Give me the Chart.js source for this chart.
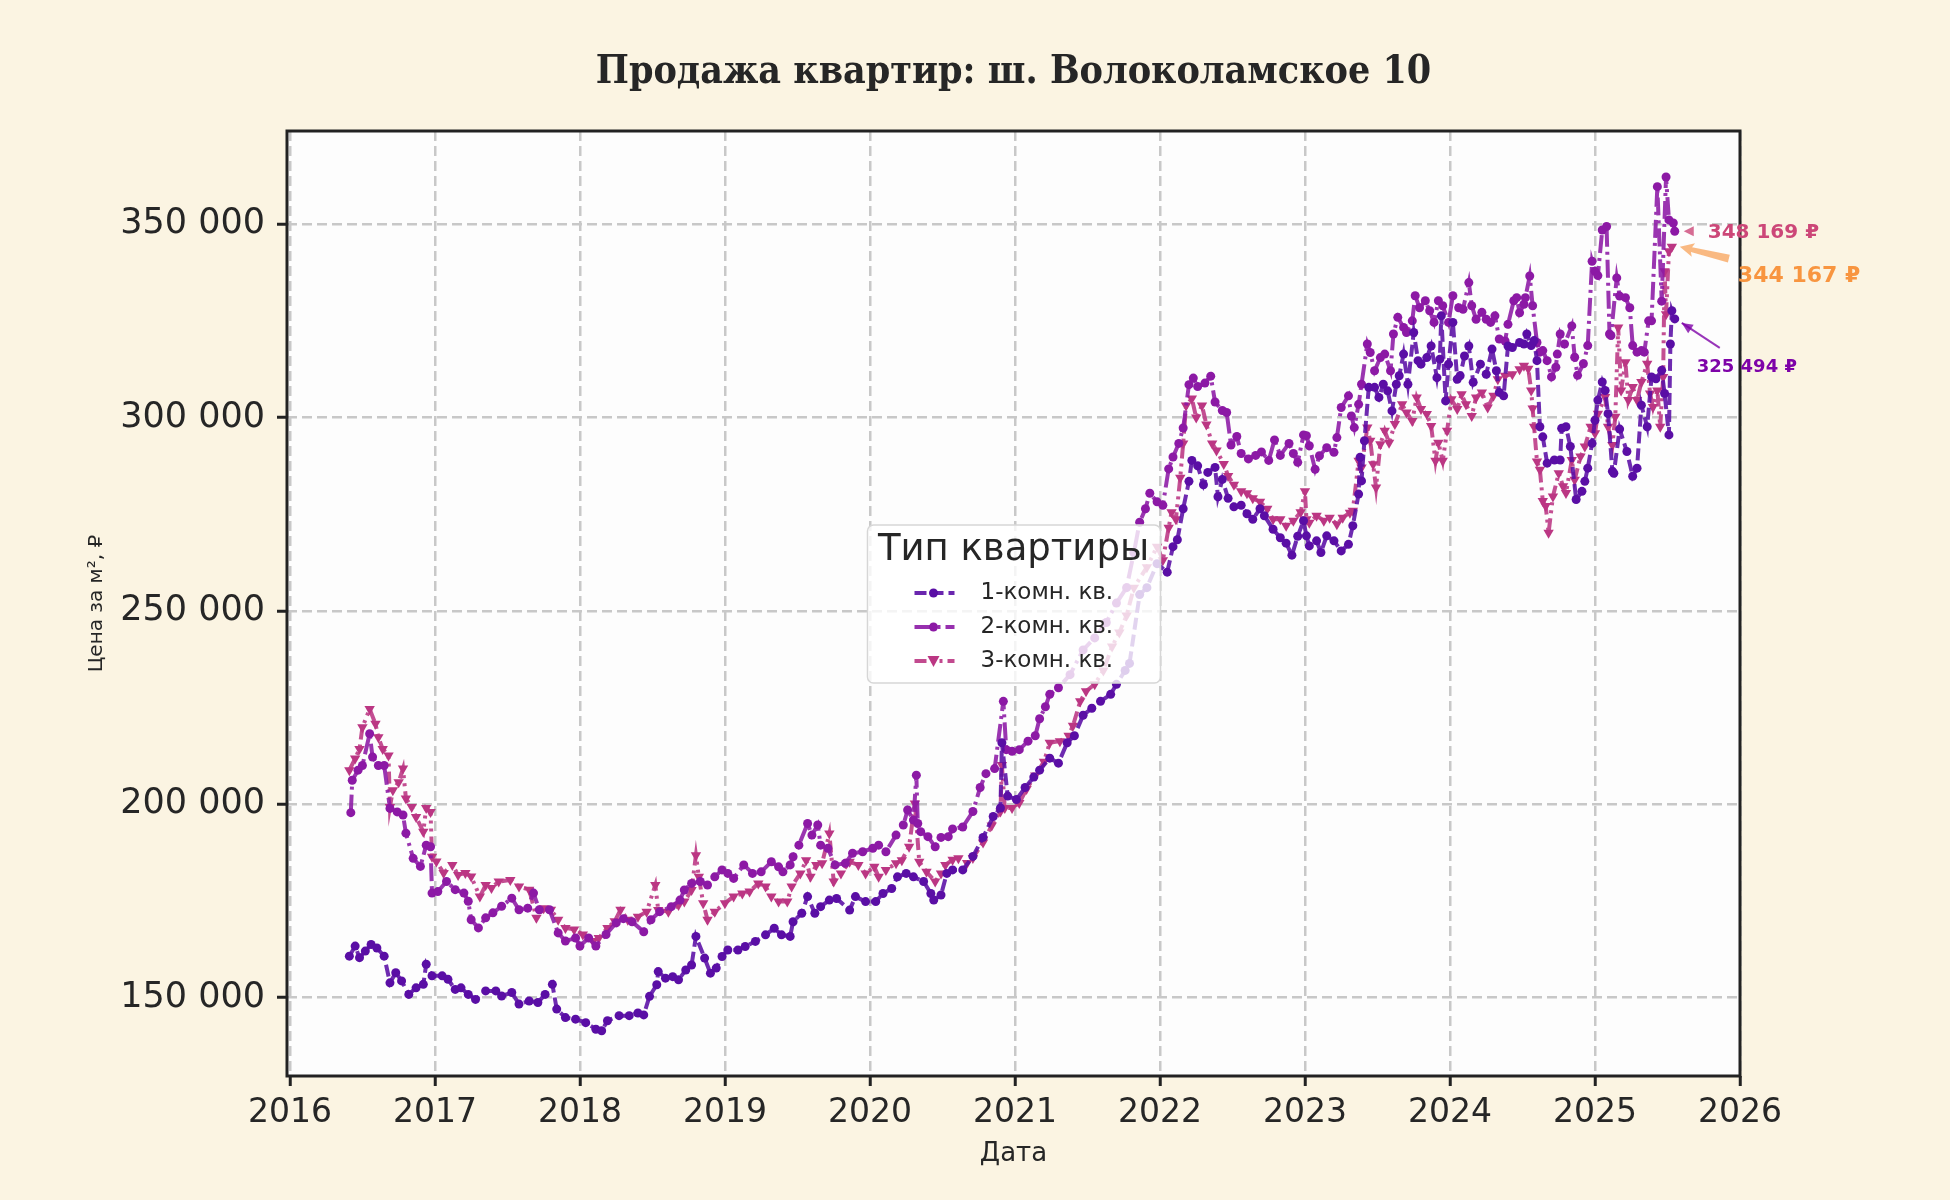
<!DOCTYPE html>
<html>
<head>
<meta charset="utf-8">
<script src="https://cdn.jsdelivr.net/npm/chart.js@4.4.1/dist/chart.umd.min.js"></script>
<style>
  html, body { margin: 0; padding: 0; background: #fbf4e2; }
  #chart { display: block; }
</style>
</head>
<body>
<canvas id="chart" width="1950" height="1200"></canvas>
<script>
// --- data ---
const seriesNames = ['1-комн. кв.', '2-комн. кв.', '3-комн. кв.'];

const years1 = [2016.41,2016.45,2016.48,2016.52,2016.56,2016.60,2016.65,2016.69,2016.73,2016.77,2016.82,2016.87,2016.92,2016.94,2016.98,
  2017.05,2017.09,2017.14,2017.18,2017.23,2017.28,2017.35,2017.42,2017.46,2017.53,2017.58,2017.65,2017.71,2017.76,2017.81,2017.84,2017.90,2017.97,
  2018.04,2018.11,2018.15,2018.19,2018.27,2018.34,2018.40,2018.44,2018.48,2018.53,2018.54,2018.59,2018.64,2018.68,2018.73,2018.77,2018.80,2018.86,2018.90,2018.94,2018.98,
  2019.02,2019.09,2019.14,2019.21,2019.28,2019.34,2019.39,2019.45,2019.47,2019.53,2019.57,2019.62,2019.66,2019.72,2019.77,2019.86,2019.90,2019.97,
  2020.04,2020.09,2020.15,2020.19,2020.25,2020.30,2020.37,2020.42,2020.44,2020.49,2020.53,2020.57,2020.64,2020.71,2020.78,2020.85,2020.90,2020.91,2020.95,
  2021.01,2021.07,2021.13,2021.17,2021.24,2021.30,2021.36,2021.41,2021.47,2021.53,2021.59,2021.66,2021.70,2021.76,2021.79,2021.86,2021.91,2021.98,
  2022.05,2022.09,2022.12,2022.16,2022.20,2022.22,2022.26,2022.30,2022.33,2022.38,2022.40,2022.43,2022.47,2022.51,2022.56,2022.60,2022.64,2022.69,2022.72,2022.78,2022.83,2022.87,2022.91,2022.95,2022.99,
  2023.01,2023.03,2023.08,2023.11,2023.15,2023.20,2023.25,2023.30,2023.33,2023.37,2023.38,2023.39,2023.41,2023.44,2023.48,2023.51,2023.54,2023.57,2023.60,2023.63,2023.65,2023.68,2023.71,2023.75,2023.78,2023.80,2023.84,2023.87,2023.91,2023.93,2023.94,2023.97,2023.99,
  2024.02,2024.05,2024.07,2024.10,2024.13,2024.16,2024.21,2024.25,2024.29,2024.32,2024.34,2024.37,2024.40,2024.43,2024.48,2024.51,2024.53,2024.56,2024.58,2024.60,2024.62,2024.64,2024.67,2024.72,2024.76,2024.77,2024.80,2024.83,2024.87,2024.91,2024.93,2024.95,2024.98,
  2025.00,2025.02,2025.05,2025.07,2025.09,2025.12,2025.13,2025.17,2025.22,2025.26,2025.29,2025.32,2025.36,2025.39,2025.42,2025.46,2025.48,2025.51,2025.52,2025.53,2025.55];
const price1 = [160700,163300,160300,162000,163700,162800,160700,153800,156400,154300,150800,152500,153400,158600,155600,
  155600,154700,152100,152500,150800,149500,151700,151700,150400,151300,148300,149100,148700,150800,153400,147000,144800,144400,
  143500,141800,141400,144000,145300,145300,146000,145500,150300,153300,156700,155000,155400,154600,157100,158400,165800,160200,156300,157600,160600,
  162300,162300,163200,164500,166200,167900,166200,165800,169600,171800,176100,171800,173500,175200,175600,172600,176100,174800,
  174800,176900,178200,181200,182100,181200,180000,176900,175200,176500,182100,183000,183000,186500,191400,196800,199000,215900,202100,
  201200,204300,207000,208800,211900,210600,215900,217700,223000,224800,226600,228400,231000,234600,236400,254200,256000,262200,
  260000,266600,268400,276400,283500,288900,287500,282600,285800,287100,279500,284000,279100,276900,277300,275100,273700,276400,274600,271100,268900,267500,264400,269300,273300,
  269400,266800,268100,265100,269400,268100,265500,267200,272000,280200,289700,283600,294000,307800,307800,305200,308600,306900,301700,308600,310800,316400,308600,322000,314700,313800,315500,318500,310300,315100,326300,304300,313800,
  324600,309900,310800,315900,318500,309100,313800,311200,317700,312100,306500,305600,318500,318100,319400,319000,321600,318600,319900,314700,297600,295000,288200,289000,289000,297200,297600,292500,278800,280900,283500,286900,293300,
  299300,304500,309200,307000,301000,286100,285600,297000,291200,284800,286900,303200,297600,310500,310000,312200,306200,295500,319000,327600,325494];

const years2 = [2016.42,2016.43,2016.47,2016.50,2016.55,2016.57,2016.61,2016.65,2016.69,2016.74,2016.78,2016.80,2016.85,2016.90,2016.94,2016.97,2016.98,
  2017.02,2017.08,2017.14,2017.20,2017.23,2017.25,2017.30,2017.35,2017.40,2017.46,2017.53,2017.58,2017.64,2017.68,2017.72,2017.79,2017.85,2017.90,2017.97,
  2018.00,2018.06,2018.11,2018.18,2018.25,2018.30,2018.36,2018.44,2018.49,2018.55,2018.63,2018.69,2018.72,2018.77,2018.83,2018.88,2018.93,2018.98,
  2019.02,2019.06,2019.13,2019.19,2019.25,2019.32,2019.37,2019.40,2019.45,2019.47,2019.51,2019.57,2019.60,2019.64,2019.66,2019.71,2019.76,2019.83,2019.88,2019.95,
  2020.02,2020.06,2020.11,2020.18,2020.23,2020.26,2020.30,2020.32,2020.33,2020.35,2020.40,2020.45,2020.49,2020.54,2020.57,2020.64,2020.71,2020.76,2020.80,2020.86,2020.92,2020.94,2020.98,
  2021.03,2021.09,2021.14,2021.17,2021.21,2021.24,2021.30,2021.38,2021.47,2021.55,2021.63,2021.70,2021.77,2021.82,2021.86,2021.90,2021.93,2021.98,
  2022.02,2022.06,2022.09,2022.13,2022.16,2022.20,2022.23,2022.26,2022.31,2022.35,2022.38,2022.43,2022.46,2022.49,2022.53,2022.56,2022.61,2022.66,2022.70,2022.75,2022.79,2022.83,2022.89,2022.92,2022.95,2022.99,
  2023.01,2023.03,2023.07,2023.10,2023.15,2023.20,2023.22,2023.25,2023.30,2023.32,2023.34,2023.37,2023.39,2023.43,2023.45,2023.48,2023.52,2023.55,2023.59,2023.61,2023.64,2023.68,2023.70,2023.74,2023.76,2023.79,2023.83,2023.86,2023.89,2023.92,2023.95,2023.99,
  2024.02,2024.06,2024.09,2024.13,2024.15,2024.18,2024.22,2024.25,2024.28,2024.31,2024.34,2024.38,2024.40,2024.44,2024.46,2024.48,2024.51,2024.52,2024.55,2024.57,2024.60,2024.62,2024.64,2024.67,2024.70,2024.73,2024.74,2024.76,2024.79,2024.84,2024.86,2024.88,2024.92,2024.95,2024.98,
  2025.00,2025.02,2025.05,2025.08,2025.10,2025.11,2025.15,2025.17,2025.21,2025.24,2025.26,2025.29,2025.32,2025.34,2025.37,2025.39,2025.43,2025.46,2025.49,2025.51,2025.54,2025.55];
const price2 = [197800,206200,208800,210000,218200,212200,210000,210000,198900,198000,197200,192500,186000,183900,189400,189000,177000,
  177400,180000,177900,177000,174900,170100,168000,170600,171900,173600,175700,172700,173100,177000,172700,172700,166700,164600,165400,
  163300,165400,163300,166300,169300,170400,169600,167000,170100,172200,173500,175200,177800,179500,180000,179100,181200,183000,
  182100,180800,184300,182100,182500,185100,183800,182500,184300,186400,189400,195000,192000,194600,189400,188600,184300,184700,187300,187700,
  188600,189400,187700,192000,194600,198500,195900,207500,195000,192900,191600,189000,191400,191600,193600,194100,198100,204300,207900,209200,226600,214100,213700,
  214100,216300,217700,222100,225200,228400,230100,233500,239900,243000,247000,252000,256000,265000,272900,276400,280400,278200,
  277300,286700,289800,293300,297300,308500,310200,308000,308900,310700,304000,301800,301300,292900,295100,290700,289300,290200,291100,288900,294200,290200,293300,290700,288400,295500,
  295300,292700,286600,290100,292200,291000,294800,302600,305600,300400,297400,303400,308600,319000,316800,312100,315500,316400,312100,321600,325900,323300,322000,325000,331500,328400,330200,327600,324600,330200,328900,324600,
  331500,328400,328000,334900,328900,325400,327200,325400,324600,326300,320300,319800,324100,330200,331000,327100,329300,331000,336600,328900,319400,316900,317300,314700,310500,313000,316400,321600,319000,323700,315600,310900,313900,318600,340400,
  337800,336700,348500,349400,321600,321200,336100,331400,331000,328400,318600,316900,317300,316900,325000,325000,359700,330100,362200,351100,350300,348169];

const years3 = [2016.41,2016.45,2016.48,2016.50,2016.55,2016.59,2016.61,2016.64,2016.68,2016.69,2016.71,2016.75,2016.78,2016.80,2016.84,2016.87,2016.92,2016.94,2016.97,2016.98,
  2017.01,2017.06,2017.12,2017.16,2017.21,2017.25,2017.31,2017.35,2017.39,2017.44,2017.52,2017.58,2017.65,2017.70,2017.75,2017.80,2017.85,2017.90,2017.96,
  2018.02,2018.09,2018.13,2018.19,2018.24,2018.28,2018.33,2018.40,2018.46,2018.52,2018.54,2018.61,2018.68,2018.72,2018.77,2018.80,2018.82,2018.85,2018.88,2018.93,
  2019.00,2019.06,2019.12,2019.17,2019.23,2019.28,2019.32,2019.37,2019.43,2019.46,2019.52,2019.56,2019.59,2019.63,2019.67,2019.72,2019.75,2019.80,2019.86,2019.92,2019.97,
  2020.03,2020.06,2020.11,2020.18,2020.22,2020.27,2020.31,2020.34,2020.39,2020.45,2020.49,2020.52,2020.57,2020.61,2020.67,2020.71,2020.78,2020.84,2020.90,2020.91,2020.93,2020.98,
  2021.03,2021.08,2021.14,2021.20,2021.24,2021.31,2021.37,2021.40,2021.45,2021.49,2021.55,2021.61,2021.67,2021.72,2021.77,2021.82,2021.91,2021.98,
  2022.02,2022.06,2022.08,2022.11,2022.14,2022.16,2022.18,2022.22,2022.25,2022.29,2022.32,2022.36,2022.39,2022.44,2022.47,2022.51,2022.56,2022.60,2022.64,2022.69,2022.74,2022.78,2022.83,2022.87,2022.92,2022.97,2023.00,
  2023.01,2023.03,2023.08,2023.13,2023.17,2023.22,2023.26,2023.31,2023.33,2023.37,2023.39,2023.43,2023.45,2023.47,2023.49,2023.52,2023.55,2023.58,2023.62,2023.67,2023.70,2023.74,2023.77,2023.80,2023.84,2023.87,2023.90,2023.92,2023.95,2023.98,
  2024.01,2024.05,2024.08,2024.11,2024.15,2024.18,2024.22,2024.26,2024.30,2024.33,2024.38,2024.43,2024.48,2024.51,2024.54,2024.56,2024.57,2024.58,2024.60,2024.62,2024.64,2024.66,2024.68,2024.71,2024.75,2024.78,2024.80,2024.84,2024.86,2024.90,2024.93,2024.97,
  2025.00,2025.02,2025.07,2025.09,2025.12,2025.14,2025.16,2025.18,2025.21,2025.23,2025.26,2025.29,2025.32,2025.36,2025.38,2025.40,2025.43,2025.45,2025.47,2025.48,2025.49,2025.51,2025.53];
const price3 = [208800,211800,214300,219900,224600,220800,217300,214300,212600,199300,203600,205700,209200,201500,199300,196700,192900,199000,198000,186400,
  185200,182200,184300,181700,182200,181300,176100,179100,178300,180000,180400,178700,177900,170600,173100,172700,170100,168000,167600,
  166300,164600,165400,168000,169700,172700,170100,170900,172200,179100,172600,172200,173900,174800,177800,186800,181200,174400,170100,172200,
  174400,176100,176900,177400,179500,178700,176100,174800,174800,178700,182100,185500,181200,184300,184700,192400,180000,182100,185100,184300,182100,
  183800,181200,183000,184700,185500,189000,200200,185100,182500,180000,182100,184300,185600,186000,184800,186100,190100,194500,198100,210100,199000,199000,
  200300,203900,207400,211000,215900,216300,217700,220300,226600,229200,231000,234600,240800,244400,248800,256000,261300,266600,
  263100,271500,275500,273700,284400,293300,303100,304900,300000,303100,298200,293300,291500,288000,284900,282600,280900,280400,279100,278200,276400,273700,273700,272000,273300,275500,280900,
  273700,272800,274600,273300,274100,272400,274100,275400,275900,288800,287100,297400,294000,287900,281900,293100,296600,293500,298300,303400,301300,299100,305200,302200,300900,297800,288800,293500,288800,296600,
  304700,302200,306000,303400,300400,305200,306500,302600,305600,309900,310800,311200,312500,313400,312600,307000,302300,297600,288600,286500,278400,277100,270200,279600,285600,282200,280500,289000,283900,289900,292500,297600,
  295900,301000,305300,297600,292900,300200,323300,307000,314300,304500,307900,304500,309200,313900,306200,302700,307000,297600,310500,337800,326700,343000,344167];

const xTicks = [2016, 2017, 2018, 2019, 2020, 2021, 2022, 2023, 2024, 2025, 2026];
const yTicks = [150000, 200000, 250000, 300000, 350000];

const seriesColors = ['#5a0ea5', '#8c19a5', '#bb3683'];
const noteColors = ['#7e03a8', '#cc4778', '#f89540'];

const TEXT = '#262626';
const SANS = '"DejaVu Sans", Verdana, sans-serif';

function fmtRub(v) {
  return String(Math.round(v)).replace(/\B(?=(\d{3})+(?!\d))/g, ' ');
}

function toPoints(xs, ys) {
  return xs.map((x, i) => ({ x: x, y: ys[i] }));
}

const dashes = [[12, 5], [18, 5, 3, 5], [12, 5, 3, 5, 3, 5]];
const pointStyles = ['circle', 'circle', 'triangle'];
const pointRot = [0, 0, 180];

// фон, рамка, заголовки, легенда, подписи
const decorPlugin = {
  id: 'decor',
  beforeDraw(chart) {
    const { ctx, chartArea: ca } = chart;
    ctx.save();
    ctx.fillStyle = '#fbf4e2';
    ctx.fillRect(0, 0, chart.width, chart.height);
    ctx.fillStyle = '#fdfdfd';
    ctx.fillRect(ca.left, ca.top, ca.right - ca.left, ca.bottom - ca.top);
    ctx.restore();
  },
  afterDraw(chart) {
    const { ctx, chartArea: ca } = chart;
    const xs = chart.scales.x, ys = chart.scales.y;
    const cx = (ca.left + ca.right) / 2;

    ctx.save();
    // frame
    ctx.strokeStyle = '#222';
    ctx.lineWidth = 3;
    ctx.strokeRect(ca.left, ca.top, ca.right - ca.left, ca.bottom - ca.top);

    // title
    ctx.fillStyle = TEXT;
    ctx.textAlign = 'center';
    ctx.textBaseline = 'middle';
    ctx.font = 'bold 39px "DejaVu Serif Condensed", "DejaVu Serif", serif';
    ctx.fillText('Продажа квартир: ш. Волоколамское 10', cx, 73);

    // axis titles
    ctx.font = '26px ' + SANS;
    ctx.fillText('Дата', cx, 1154);
    ctx.save();
    ctx.translate(97, (ca.top + ca.bottom) / 2);
    ctx.rotate(-Math.PI / 2);
    ctx.font = '20px ' + SANS;
    ctx.fillText('Цена за м², ₽', 0, 0);
    ctx.restore();

    // legend
    const bx = cx - 146, by = ca.top + 394, bw = 293, bh = 158;
    ctx.beginPath();
    ctx.roundRect(bx, by, bw, bh, 6);
    ctx.fillStyle = 'rgba(255,255,255,0.8)';
    ctx.fill();
    ctx.strokeStyle = '#d6d6d6';
    ctx.lineWidth = 1.5;
    ctx.stroke();
    ctx.fillStyle = TEXT;
    ctx.font = '37px ' + SANS;
    ctx.fillText('Тип квартиры', cx, by + 25);
    ctx.font = '23px ' + SANS;
    ctx.textAlign = 'left';
    seriesNames.forEach((name, i) => {
      const ly = by + 68 + i * 34;
      ctx.save();
      ctx.strokeStyle = seriesColors[i];
      ctx.globalAlpha = 0.9;
      ctx.lineWidth = 4;
      ctx.setLineDash(dashes[i]);
      ctx.beginPath();
      ctx.moveTo(bx + 47, ly);
      ctx.lineTo(bx + 87, ly);
      ctx.stroke();
      ctx.restore();
      ctx.save();
      ctx.fillStyle = seriesColors[i];
      ctx.beginPath();
      if (pointStyles[i] === 'triangle') {
        ctx.moveTo(bx + 66, ly + 6);
        ctx.lineTo(bx + 72, ly - 5);
        ctx.lineTo(bx + 60, ly - 5);
        ctx.closePath();
      } else {
        ctx.arc(bx + 66, ly, 4.5, 0, Math.PI * 2);
      }
      ctx.fill();
      ctx.restore();
      ctx.fillStyle = TEXT;
      ctx.fillText(name, bx + 113, ly);
    });

    // последние значения со стрелками
    const lastOf = (xsArr, ysArr) => ({
      px: xs.getPixelForValue(xsArr[xsArr.length - 1]),
      py: ys.getPixelForValue(ysArr[ysArr.length - 1]),
      v: ysArr[ysArr.length - 1]
    });
    const p1 = lastOf(years1, price1), p2 = lastOf(years2, price2), p3 = lastOf(years3, price3);

    // 2-комн: short arrow with filled head
    ctx.fillStyle = noteColors[1];
    ctx.globalAlpha = 0.8;
    ctx.beginPath();
    ctx.moveTo(p2.px + 9, p2.py);
    ctx.lineTo(p2.px + 19, p2.py - 5);
    ctx.lineTo(p2.px + 19, p2.py + 5);
    ctx.closePath();
    ctx.fill();
    ctx.globalAlpha = 1;
    ctx.font = 'bold 20px ' + SANS;
    ctx.textAlign = 'left';
    ctx.fillText(fmtRub(p2.v) + ' ₽', p2.px + 33, p2.py + 2);

    // 3-комн: fancy orange arrow
    ctx.save();
    ctx.globalAlpha = 0.65;
    ctx.fillStyle = noteColors[2];
    const tx = p3.px + 57, ty = p3.py + 12, hx = p3.px + 8, hy = p3.py;
    const ang = Math.atan2(hy - ty, hx - tx);
    ctx.translate(hx, hy);
    ctx.rotate(ang);
    const len = Math.hypot(hx - tx, hy - ty);
    ctx.beginPath();
    ctx.moveTo(0, 0);
    ctx.lineTo(-14, -7);
    ctx.lineTo(-12, -2.5);
    ctx.lineTo(-len, -4);
    ctx.lineTo(-len, 4);
    ctx.lineTo(-12, 2.5);
    ctx.lineTo(-14, 7);
    ctx.closePath();
    ctx.fill();
    ctx.restore();
    ctx.fillStyle = noteColors[2];
    ctx.font = 'bold 22px ' + SANS;
    ctx.fillText(fmtRub(p3.v) + ' ₽', p3.px + 66, p3.py + 30);

    // 1-комн: thin purple arrow
    ctx.save();
    ctx.strokeStyle = noteColors[0];
    ctx.fillStyle = noteColors[0];
    ctx.globalAlpha = 0.8;
    ctx.lineWidth = 2;
    const ax0 = p1.px + 45, ay0 = p1.py + 29, ax1 = p1.px + 7, ay1 = p1.py + 4;
    ctx.beginPath();
    ctx.moveTo(ax0, ay0);
    ctx.lineTo(ax1, ay1);
    ctx.stroke();
    const a2 = Math.atan2(ay1 - ay0, ax1 - ax0);
    ctx.translate(ax1, ay1);
    ctx.rotate(a2);
    ctx.beginPath();
    ctx.moveTo(0, 0);
    ctx.lineTo(-11, -5);
    ctx.lineTo(-11, 5);
    ctx.closePath();
    ctx.fill();
    ctx.restore();
    ctx.fillStyle = noteColors[0];
    ctx.font = 'bold 18px ' + SANS;
    ctx.fillText(fmtRub(p1.v) + ' ₽', p1.px + 22, p1.py + 48);

    ctx.restore();
  }
};

const rawSeries = [[years1, price1], [years2, price2], [years3, price3]];

const gridOpts = {
  color: '#c8c8c8',
  lineWidth: 2.5,
  tickLength: 10,
  tickColor: '#222',
  tickWidth: 3,
  tickBorderDash: []
};

const chart = new Chart(document.getElementById('chart'), {
  type: 'line',
  data: {
    datasets: rawSeries.map((s, i) => ({
      label: seriesNames[i],
      data: toPoints(s[0], s[1]),
      borderColor: seriesColors[i] + 'e0',
      backgroundColor: seriesColors[i],
      borderWidth: 4,
      borderDash: dashes[i],
      pointStyle: pointStyles[i],
      pointRotation: pointRot[i],
      pointRadius: pointStyles[i] === 'triangle' ? 6 : 4.5,
      pointBackgroundColor: seriesColors[i],
      pointBorderWidth: 0,
      tension: 0,
      fill: false
    }))
  },
  options: {
    responsive: false,
    devicePixelRatio: 1,
    animation: false,
    layout: { padding: { left: 0, top: 131, right: 210, bottom: 0 } },
    plugins: {
      legend: { display: false },
      tooltip: { enabled: false },
      title: { display: false }
    },
    scales: {
      x: {
        type: 'linear',
        min: 2015.98,
        max: 2026.0,
        afterBuildTicks: s => { s.ticks = xTicks.map(v => ({ value: v })); },
        afterFit: s => { s.height = 124; },
        ticks: {
          color: TEXT,
          font: { family: SANS, size: 33 },
          padding: 8,
          maxRotation: 0,
          autoSkip: false,
          callback: v => String(v)
        },
        grid: gridOpts,
        border: { display: false, dash: [10, 5] }
      },
      y: {
        type: 'linear',
        min: 129700,
        max: 374100,
        afterBuildTicks: s => { s.ticks = yTicks.map(v => ({ value: v })); },
        afterFit: s => { s.width = 287; },
        ticks: {
          color: TEXT,
          font: { family: SANS, size: 35 },
          padding: 12,
          autoSkip: false,
          callback: v => fmtRub(v)
        },
        grid: gridOpts,
        border: { display: false, dash: [10, 5] }
      }
    }
  },
  plugins: [decorPlugin]
});
</script>
</body>
</html>
